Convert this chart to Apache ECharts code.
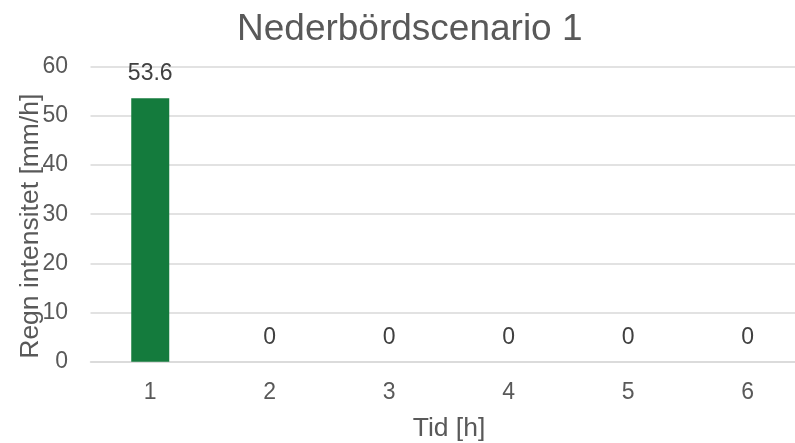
<!DOCTYPE html>
<html>
<head>
<meta charset="utf-8">
<script src="https://cdn.jsdelivr.net/npm/echarts@6/dist/echarts.min.js"></script>
<style>
  html, body { margin: 0; padding: 0; background: #fff; }
  #chart { width: 795px; height: 443px; }
</style>
</head>
<body>
<div id="chart"></div>
<script>
// Rain intensity per hour for scenario 1
const hours = ['1', '2', '3', '4', '5', '6'];
const intensity = [53.6, 0, 0, 0, 0, 0];
const yTicks = { min: 0, max: 60, interval: 10 };

const textGrey = '#595959';
const font = '"Liberation Sans", Arial, sans-serif';

const chart = echarts.init(document.getElementById('chart'), null, { renderer: 'canvas' });
chart.setOption({
  animation: false,
  backgroundColor: '#ffffff',
  textStyle: { fontFamily: font },
  title: {
    text: 'Nederbördscenario 1',
    left: 232,
    top: 6,
    textStyle: { fontFamily: font, fontSize: 37, fontWeight: 'normal', color: textGrey }
  },
  // the plot area runs slightly past the right edge of the canvas
  grid: { left: 90.5, top: 66.7, width: 717, height: 295, outerBoundsMode: 'none', containLabel: false },
  xAxis: {
    type: 'category',
    data: hours,
    name: 'Tid [h]',
    nameLocation: 'middle',
    nameGap: 53,
    nameTextStyle: { fontFamily: font, fontSize: 26.5, color: textGrey },
    axisLine: { show: true, lineStyle: { color: '#d9d9d9', width: 1.5 } },
    axisTick: { show: false },
    axisLabel: { fontFamily: font, fontSize: 23, color: textGrey, margin: 19 }
  },
  yAxis: {
    type: 'value',
    min: yTicks.min,
    max: yTicks.max,
    interval: yTicks.interval,
    name: 'Regn intensitet [mm/h]',
    nameLocation: 'middle',
    nameGap: 46,
    nameMoveOverlap: false,
    nameTextStyle: { fontFamily: font, fontSize: 26.5, color: textGrey, padding: [0, 24, 0, 0] },
    axisLine: { show: false },
    axisTick: { show: false },
    axisLabel: { fontFamily: font, fontSize: 23, color: textGrey, margin: 22.5 },
    splitLine: { lineStyle: { color: '#d9d9d9', width: 1.5 } }
  },
  series: [{
    type: 'bar',
    data: intensity,
    barWidth: 38,
    itemStyle: { color: '#147b3d' },
    label: {
      show: true,
      position: 'top',
      distance: 13,
      fontFamily: font,
      fontSize: 23,
      color: '#404040'
    }
  }]
});
</script>
</body>
</html>
